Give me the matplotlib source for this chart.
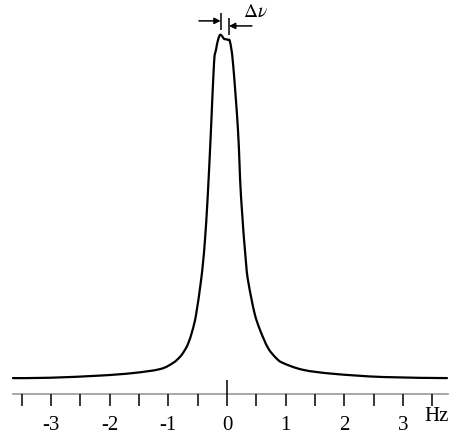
import matplotlib
matplotlib.use("Agg")
import matplotlib.pyplot as plt
from matplotlib.path import Path
from matplotlib.patches import PathPatch
import numpy as np

# line shape (Hz, relative intensity)
freq = [-3.646, -3.015, -2.164, -1.601, -1.141, -0.920, -0.801, -0.733, -0.664,
        -0.591, -0.528, -0.448, -0.409, -0.375, -0.329, -0.273, -0.221, -0.187,
        -0.153, -0.119, -0.085, -0.051, -0.017, 0.017, 0.051, 0.102, 0.187,
        0.239, 0.324, 0.366, 0.468, 0.562, 0.698, 0.835, 0.954, 1.295, 1.806,
        2.658, 3.748]
inten = [0.044, 0.045, 0.051, 0.058, 0.069, 0.086, 0.103, 0.118, 0.139,
         0.175, 0.219, 0.308, 0.364, 0.428, 0.547, 0.733, 0.919, 0.956,
         0.983, 0.997, 0.994, 0.986, 0.985, 0.983, 0.978, 0.919, 0.733,
         0.547, 0.364, 0.308, 0.225, 0.178, 0.128, 0.100, 0.086, 0.067, 0.056,
         0.047, 0.044]

major_ticks = [-3, -2, -1, 0, 1, 2, 3]
minor_ticks = [-3.5, -2.5, -1.5, -0.5, 0.5, 1.5, 2.5, 3.5]
tick_labels = ["-3", "-2", "-1", "0", "1", "2", "3"]

plt.rcParams['mathtext.fontset'] = 'stix'

fig = plt.figure(figsize=(4.5, 4.44), dpi=100)
ax = fig.add_axes([0, 0, 1, 1])
ax.set_xlim(-3.867, 3.799)
ax.set_ylim(-0.139, 1.094)
ax.axis('off')

# smooth curve through the points (Catmull-Rom as cubic Bezier)
pts = np.column_stack([freq, inten])
ext = np.vstack([pts[0], pts, pts[-1]])
verts = [pts[0]]
codes = [Path.MOVETO]
for i in range(1, len(ext) - 2):
    p0, p1, p2, p3 = ext[i - 1], ext[i], ext[i + 1], ext[i + 2]
    verts += [p1 + (p2 - p0) / 6, p2 - (p3 - p1) / 6, p2]
    codes += [Path.CURVE4] * 3
ax.add_patch(PathPatch(Path(verts, codes), fill=False, edgecolor='black',
                       lw=1.6, joinstyle='round', capstyle='round'))

# frequency axis
ax.plot([-3.65, 3.765], [0, 0], color='#999999', lw=1.2)
ticks = major_ticks + minor_ticks
ax.vlines(ticks, -0.033, 0, color='black', lw=1.1)
ax.vlines([0], 0, 0.039, color='black', lw=1.1)
for t, lab in zip(major_ticks, tick_labels):
    ax.text(t, -0.088, lab, ha='center', va='center', fontsize=15,
            family='Liberation Serif')
ax.text(3.785, -0.062, "Hz", ha='right', va='center', fontsize=15,
        family='Liberation Serif')

# splitting marker
xl, xr = -0.108, 0.034
ax.vlines([xl], 1.011, 1.058, color='black', lw=1.1)
ax.vlines([xr], 0.997, 1.044, color='black', lw=1.1)
ax.annotate('', xy=(xl, 1.036), xytext=(xl - 0.37, 1.036),
            arrowprops=dict(arrowstyle='-|>', color='black', lw=1.1,
                            mutation_scale=9, shrinkA=0, shrinkB=0))
ax.annotate('', xy=(xr, 1.022), xytext=(xr + 0.39, 1.022),
            arrowprops=dict(arrowstyle='-|>', color='black', lw=1.1,
                            mutation_scale=9, shrinkA=0, shrinkB=0))
ax.text(0.27, 1.062, r'$\Delta\nu$', ha='left', va='center', fontsize=14)

fig.savefig("out.png", dpi=100)
